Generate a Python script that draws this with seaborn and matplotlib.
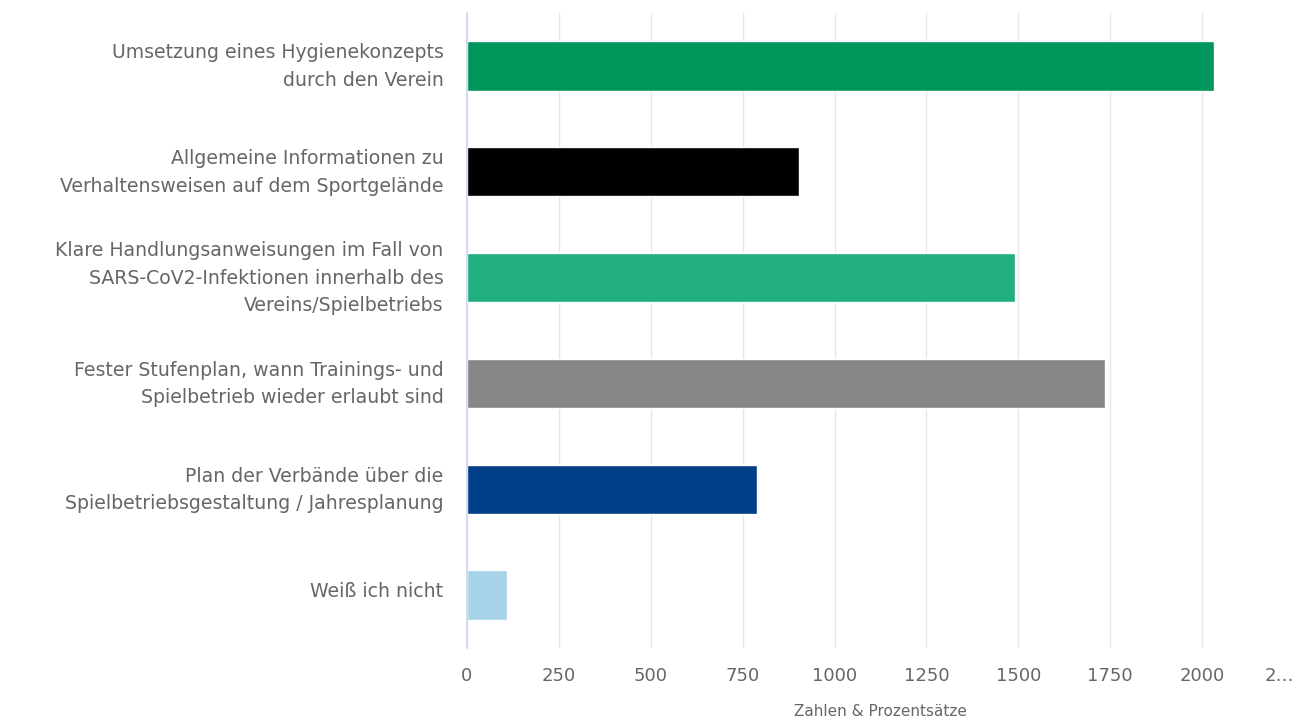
import matplotlib
matplotlib.use("Agg")
import matplotlib.pyplot as plt
import matplotlib.transforms as mtransforms
import seaborn as sns
import pandas as pd

# Daten
kategorien = [
    "Umsetzung eines Hygienekonzepts\ndurch den Verein",
    "Allgemeine Informationen zu\nVerhaltensweisen auf dem Sportgelände",
    "Klare Handlungsanweisungen im Fall von\nSARS-CoV2-Infektionen innerhalb des\nVereins/Spielbetriebs",
    "Fester Stufenplan, wann Trainings- und\nSpielbetrieb wieder erlaubt sind",
    "Plan der Verbände über die\nSpielbetriebsgestaltung / Jahresplanung",
    "Weiß ich nicht",
]
werte = [2033, 902, 1491, 1736, 789, 110]
farben = ["#00955a", "#000000", "#21af80", "#878787", "#003f87", "#a6d3e8"]
x_ticks = [0, 250, 500, 750, 1000, 1250, 1500, 1750, 2000, 2250]
x_tick_labels = ["0", "250", "500", "750", "1000", "1250", "1500", "1750", "2000", "2…"]

df = pd.DataFrame({"kategorie": kategorien, "wert": werte})

sns.set_style("white")
plt.rcParams["font.family"] = ["DejaVu Sans"]

fig = plt.figure(figsize=(12.94, 7.18), dpi=100)
ax = fig.add_axes([467 / 1294, 1 - 648 / 718, 1 - 467 / 1294, (648 - 13) / 718])

sns.barplot(data=df, x="wert", y="kategorie", hue="kategorie", palette=farben,
            legend=False, width=0.465, saturation=1, ax=ax, orient="h")

ax.set_xlim(0, 2250)
ax.set_ylim(5.5, -0.5)
ax.set_xticks(x_ticks)
ax.set_xticklabels(x_tick_labels)
ax.grid(axis="x", color="#e6e6e6", linewidth=1)
ax.xaxis.get_gridlines()[-1].set_visible(False)
ax.set_axisbelow(True)
for s in ["top", "right", "bottom"]:
    ax.spines[s].set_visible(False)
ax.spines["left"].set_color("#ccd6eb")
ax.spines["left"].set_linewidth(1.2)

ax.tick_params(axis="x", length=0, pad=14, labelsize=13, labelcolor="#666666")
ax.tick_params(axis="y", length=0, pad=17, labelsize=13.6, labelcolor="#666666")
# Beschriftungen etwas nach oben schieben
hoch = mtransforms.ScaledTranslation(0, 0.055, fig.dpi_scale_trans)
for lbl in ax.get_yticklabels():
    lbl.set_linespacing(1.55)
    lbl.set_horizontalalignment("right")
    lbl.set_transform(lbl.get_transform() + hoch)
# letztes Label ist im Original abgeschnitten
last = ax.get_xticklabels()[-1]
last.set_horizontalalignment("right")

ax.set_ylabel("")
ax.set_xlabel("Zahlen & Prozentsätze", fontsize=11, color="#666666", labelpad=13)

fig.savefig("out.png", dpi=100)
